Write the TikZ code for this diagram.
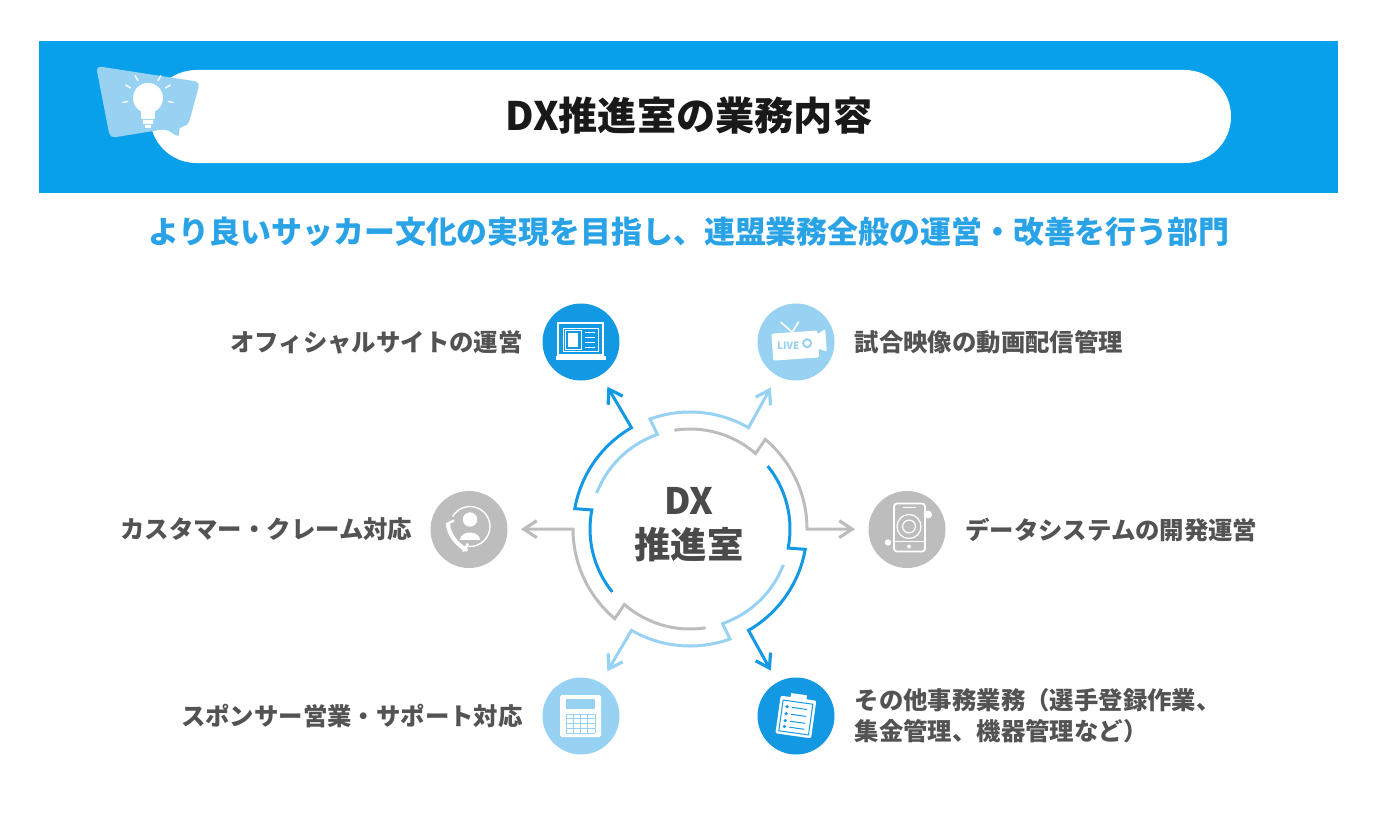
\documentclass[tikz,border=0pt]{standalone}
\usepackage{fontspec}
\setmainfont{Noto Sans CJK JP}
\usetikzlibrary{positioning,arrows.meta,calc}
\definecolor{dxsky}{HTML}{08A0EA}
\definecolor{dxblue}{HTML}{1399E3}
\definecolor{dxtext}{HTML}{2AA3E6}
\definecolor{dxlight}{HTML}{98D2F3}
\definecolor{dxgray}{HTML}{BDBDBD}
\definecolor{dxink}{HTML}{4A4A4A}
\tikzset{
  iconball/.style={circle,minimum size=38.5pt,inner sep=0pt},
  lbl/.style={font=\bfseries\fontsize{12.2pt}{15.5pt}\selectfont,text=dxink!95,inner sep=0pt,align=left},
  swirl/.style={line width=1.5pt,line join=miter,miter limit=10,shorten >=6.5pt,
    -{Straight Barb[length=6.5pt,width=8.5pt,line width=1.6pt]}},
  icn/.style={shift={(#1)},y=-.5pt}, % local pixel offsets, y down
  thinw/.style={white,line width=.6pt},
}
\begin{document}
\begin{tikzpicture}[x=.5pt,y=.5pt]
  \useasboundingbox (0,0) rectangle (1386,816);
  \coordinate (pagetop) at (0,816);
  \coordinate (ring) at (690,287);
  % header band
  \fill[dxsky] (39,623) rectangle (1338,775);
  \node[fill=white,minimum width=540.5pt,minimum height=46.5pt,rounded corners=23.2pt,inner sep=0pt] (titlebar) at (690.5,699.5) {};
  \node[font=\bfseries\fontsize{19.6pt}{22pt}\selectfont,text=black!90,inner sep=0pt] (titletxt) at (689,700) {DX推進室の業務内容};
  \node[font=\bfseries\fontsize{15.45pt}{18pt}\selectfont,text=dxtext,inner sep=0pt] (subtxt) at (689,584) {より良いサッカー文化の実現を目指し、連盟業務全般の運営・改善を行う部門};
  % bubble with bulb
  \begin{scope}[icn=pagetop]
    \fill[dxlight,rounded corners=2.5pt] (96,66) -- (200,82) -- (188,126) -- (178,127) -- (180,138) -- (166,129) -- (110,138) -- cycle;
    \fill[white] (148,98) circle[radius=7.5pt];
    \fill[white] (141,108) rectangle (155,119);
    \fill[white] (143,120) rectangle (153,124) (145,125) rectangle (151,128);
    \foreach \a in {30,60,120,150,-10,190}{
      \draw[white,line width=.7pt] ($(148,98)+(\a:10pt)$) -- ($(148,98)+(\a:13pt)$);}
  \end{scope}
  % centre
  \node[font=\bfseries\fontsize{18.2pt}{22pt}\selectfont,text=dxink,align=center,inner sep=0pt] (dxhub) at (689,291) {DX\\推進室};
  % icon circles
  \node[iconball,fill=dxblue] (iconsite) at (581,474) {};
  \node[iconball,fill=dxlight] (iconlive) at (796,474) {};
  \node[iconball,fill=dxgray] (icondata) at (907,286.5) {};
  \node[iconball,fill=dxblue] (iconmisc) at (796,100) {};
  \node[iconball,fill=dxlight] (iconcalc) at (581,100) {};
  \node[iconball,fill=dxgray] (iconcall) at (469,286.5) {};
  % labels
  \node[lbl,left=9.5pt of iconsite] (lblsite) {オフィシャルサイトの運営};
  \node[lbl,right=9.7pt of iconlive] (lbllive) {試合映像の動画配信管理};
  \node[lbl,right=9.5pt of icondata] (lbldata) {データシステムの開発運営};
  \node[lbl,right=9.7pt of iconmisc] (lblmisc) {その他事務業務（選手登録作業、\\集金管理、機器管理など）};
  \node[lbl,left=9.5pt of iconcalc] (lblcalc) {スポンサー営業・サポート対応};
  \node[lbl,left=8.7pt of iconcall] (lblcall) {カスタマー・クレーム対応};
  % six arcs, each ending in an arrow to its icon
  \foreach \ang/\col/\tgt in {120/dxblue/iconsite,60/dxlight/iconlive,0/dxgray/icondata,
      -60/dxblue/iconmisc,-120/dxlight/iconcalc,-180/dxgray/iconcall}{
    \draw[swirl,\col] ($(ring)+(\ang+99:50pt)$) arc[start angle=\ang+99,end angle=\ang+49,radius=50pt]
      -- ($(ring)+(\ang+50:58.5pt)$) arc[start angle=\ang+50,end angle=\ang,radius=58.5pt] -- (\tgt);
  }
  % laptop
  \begin{scope}[icn=iconsite]
    \draw[thinw,line width=.7pt] (-23,-19) rectangle (22,13);
    \draw[thinw,line width=.4pt] (-18,-14) rectangle (17,9);
    \draw[thinw,line width=.4pt] (-16,-12) rectangle (0,7);
    \fill[white] (-13,-9) rectangle (-3,5);
    \foreach \y in {-10,-5,0,5}{\draw[thinw,line width=.45pt] (4,\y) -- (14,\y);}
    \fill[white] (-25,14) rectangle (25,18);
  \end{scope}
  % live camera
  \begin{scope}[icn=iconlive,rotate=4]
    \fill[white,rounded corners=1pt] (-24,-10) -- (22,-10) -- (22,-6) -- (30,-11) -- (30,12) -- (22,8) -- (22,17) -- (-24,17) -- cycle;
    \draw[white,line width=.8pt] (-3,-10) -- (-14,-21) (-3,-10) -- (4,-20);
    \node[font=\bfseries\fontsize{5pt}{5pt}\selectfont,text=dxlight,inner sep=0pt] (liveword) at (-8,3) {LIVE};
    \draw[dxlight,line width=1pt] (11,2) circle[radius=2pt];
  \end{scope}
  % data phone
  \begin{scope}[icn=icondata]
    \draw[white,line width=.9pt,rounded corners=1.5pt] (-13,-26) rectangle (18,22);
    \draw[thinw] (-13,12) -- (18,12);
    \draw[thinw] (-4,-22) -- (9,-22);
    \draw[thinw] (2,-3) circle[radius=6pt] (2,-3) circle[radius=3.2pt];
    \fill[white] (2,17) circle[radius=1pt] (21,-15) circle[radius=2pt] (-19,13) circle[radius=1.6pt];
  \end{scope}
  % calculator
  \begin{scope}[icn=iconcalc]
    \fill[white,rounded corners=.8pt] (-21,-21) rectangle (20,21);
    \fill[dxlight] (-15,-17) rectangle (14,-7);
    \foreach \x in {-15,-7.75,-0.5,6.75,14}{\draw[dxlight,line width=.45pt] (\x,-2) -- (\x,17);}
    \foreach \y in {-2,2.75,7.5,12.25,17}{\draw[dxlight,line width=.45pt] (-15,\y) -- (14,\y);}
  \end{scope}
  % clipboard
  \begin{scope}[icn=iconmisc,rotate=-8]
    \fill[white,rounded corners=1pt] (-18,-18) rectangle (18,20);
    \fill[white] (-8,-22) rectangle (8,-15);
    \draw[dxblue,line width=.5pt] (-15,-14) rectangle (15,17);
    \foreach \y in {-8,-1,6,12}{
      \fill[dxblue] (-10,\y) circle[radius=.9pt];
      \draw[dxblue,line width=.5pt] (-5,\y) -- (10,\y);}
  \end{scope}
  % customer
  \begin{scope}[icn=iconcall]
    \draw[thinw,line width=.7pt] ($(1,-3)+(-100:10pt)$) arc[start angle=-100,end angle=150,radius=10pt];
    \fill[white] (1,-10) circle[radius=3.6pt];
    \fill[white] (-9,10) .. controls (-9,0) and (11,0) .. (11,10) -- cycle;
    \draw[white,line width=2pt,line cap=round] (-21,-5) .. controls (-20,6) and (-11,16) .. (-3,20);
    \draw[white,line width=1.2pt] (-23,-5) -- (-15,-9) (-6,22) -- (-1,14);
  \end{scope}
\end{tikzpicture}
\end{document}
